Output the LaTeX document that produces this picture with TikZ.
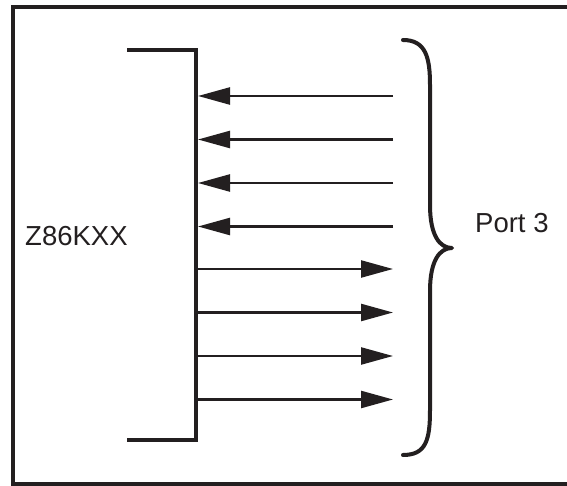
\documentclass[tikz,border=0pt]{standalone}
\usepackage{fontspec}
\setmainfont{Liberation Sans}
\usetikzlibrary{arrows.meta}
\definecolor{ink}{HTML}{231F20}
\begin{document}
\begin{tikzpicture}[x=1pt,y=-1pt,
  frame/.style={draw=ink,line width=4pt},
  chipline/.style={draw=ink,line width=4.5pt,line cap=rect},
  sig/.style={draw=ink,line width=2.4pt,-{Triangle[length=32pt,width=17pt]}},
  lbl/.style={font=\fontsize{27.5}{30}\selectfont,text=ink,inner sep=0pt,anchor=base west},
  bracestyle/.style={draw=ink,line width=4pt,line cap=round,line join=round}]
\useasboundingbox (0,0) rectangle (567,486);
% outer frame (right side beyond the picture)
\draw[frame] (575,7) -- (13,7) -- (13,484) -- (575,484);
% chip outline
\coordinate (ctop) at (196,50);
\coordinate (cbot) at (196,440);
\draw[chipline] (129,50) -- (ctop) -- (cbot) -- (129,440);
\node[lbl] (chip) at (25,246) {Z86KXX};
% inputs
\foreach \i/\y in {1/96,2/139.5,3/183,4/226.5}{
  \coordinate (pin\i) at (198,\y);
  \coordinate (ext\i) at (393,\y);
  \draw[sig] (ext\i) -- (pin\i);
}
% outputs
\foreach \i/\y in {5/269,6/312.5,7/356,8/399.5}{
  \coordinate (pin\i) at (198,\y);
  \coordinate (ext\i) at (393,\y);
  \draw[sig] (pin\i) -- (ext\i);
}
% brace
\draw[bracestyle] (403,40) .. controls (426,40) and (430,58) .. (430,85)
  -- (430,205) .. controls (430,236) and (440,248) .. (452,248)
  .. controls (440,248) and (430,260) .. (430,291)
  -- (430,410) .. controls (430,440) and (426,455) .. (403,455);
\node[lbl] (port) at (475,233) {Port 3};
\end{tikzpicture}
\end{document}
